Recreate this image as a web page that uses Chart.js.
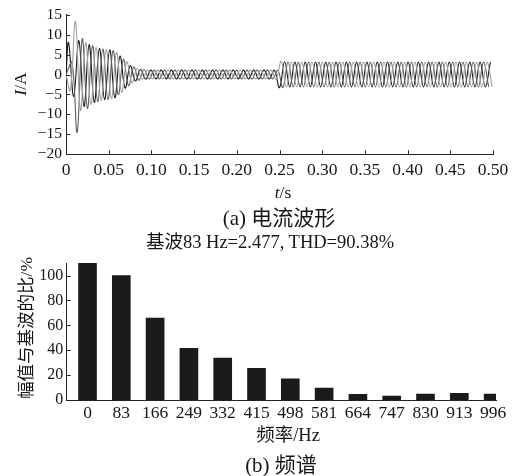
<!DOCTYPE html>
<html><head><meta charset="utf-8">
<script src="https://cdn.jsdelivr.net/npm/chart.js@4"></script>
<style>
html,body{margin:0;padding:0;background:#fff;}
#wrap{position:relative;width:517px;height:476px;overflow:hidden;font-family:"Liberation Serif","Noto Sans CJK SC",serif;color:#161616;}
canvas{position:absolute;left:0;}
.t{position:absolute;white-space:nowrap;transform:translate(-50%,-50%);line-height:1;}
</style></head><body>
<div id="wrap">
<canvas id="c1" width="517" height="200" style="top:0;width:517px;height:200px"></canvas>
<canvas id="c2" width="517" height="226" style="top:250px;width:517px;height:226px"></canvas>
<div class="t" style="left:21px;top:84px;font-size:17.5px;transform:translate(-50%,-50%) rotate(-90deg)"><i>I</i>/A</div>
<div class="t" style="left:283px;top:193px;font-size:17.5px"><i>t</i>/s</div>
<div class="t" style="left:279px;top:218px;font-size:21px">(a) 电流波形</div>
<div class="t" style="left:270px;top:242px;font-size:18.5px">基波83 Hz=2.477, THD=90.38%</div>
<div class="t" style="left:27px;top:328px;font-size:17.5px;transform:translate(-50%,-50%) rotate(-90deg)">幅值与基波的比/%</div>
<div class="t" style="left:288px;top:435px;font-size:18.5px">频率/Hz</div>
<div class="t" style="left:281px;top:465px;font-size:21px">(b) 频谱</div>
</div>
<script>
// ---------- (a) current waveform: successive peak/trough values (A) per phase ----------
const FUND_HZ = 83;
const phaseStart = [0.003, 0.007, 0.005];   // time (s) of first extreme of each phase
const phaseA = [8,-5.5,8.5,-8,7.5,-7,6.5,-6.3,6.2,-5.8,4.6,-3.4,2.2,-1.6,1.25,-1.15,
 1.1,-1.1,1.1,-1.1,1.1,-1.1,1.1,-1.1,
 1.1,-1.1,1.1,-1.1,1.1,-1.1,1.1,-1.1,
 1.1,-1.1,1.1,-1.1,1.1,-1.1,1.1,-1.1,
 1.1,
 -3.3,3.2,
 -3.1,3.1,-3.1,3.1,-3.1,3.1,-3.1,3.1,-3.1,3.1,
 -3.1,3.1,-3.1,3.1,-3.1,3.1,-3.1,3.1,-3.1,3.1,
 -3.1,3.1,-3.1,3.1,-3.1,3.1,-3.1,3.1,-3.1,3.1,
 -3.1,3.1,-3.1,3.1,-3.1,3.1,-3.1,3.1,-3.1,3.1];
const phaseB = [3,-14.5,9,-8.5,7.2,-6.8,6.4,-6.3,6,-5,3.8,-2.8,1.9,-1.4,1.2,-1.1,
 1.1,-1.1,1.1,-1.1,1.1,-1.1,1.1,-1.1,
 1.1,-1.1,1.1,-1.1,1.1,-1.1,1.1,-1.1,
 1.1,-1.1,1.1,-1.1,1.1,-1.1,1.1,-1.1,
 1.1,
 -3.3,3.2,
 -3.1,3.1,-3.1,3.1,-3.1,3.1,-3.1,3.1,-3.1,3.1,
 -3.1,3.1,-3.1,3.1,-3.1,3.1,-3.1,3.1,-3.1,3.1,
 -3.1,3.1,-3.1,3.1,-3.1,3.1,-3.1,3.1,-3.1,3.1,
 -3.1,3.1,-3.1,3.1,-3.1,3.1,-3.1,3.1,
 -3.1];
const phaseC = [-4,13.3,-9,8,-7.5,6.8,-6.5,6.3,-6,5.5,-4.4,3.2,-2.1,1.5,-1.2,1.1,
 -1.1,1.1,-1.1,1.1,-1.1,1.1,-1.1,1.1,
 -1.1,1.1,-1.1,1.1,-1.1,1.1,-1.1,1.1,
 -1.1,1.1,-1.1,1.1,-1.1,1.1,-1.1,1.1,
 -1.1,
 3.3,-3.2,
 3.1,-3.1,3.1,-3.1,3.1,-3.1,3.1,-3.1,3.1,-3.1,
 3.1,-3.1,3.1,-3.1,3.1,-3.1,3.1,-3.1,3.1,-3.1,
 3.1,-3.1,3.1,-3.1,3.1,-3.1,3.1,-3.1,3.1,-3.1,
 3.1,-3.1,3.1,-3.1,3.1,-3.1,3.1,-3.1,3.1,-3.1];
const timeTickLabels = ['0','0.05','0.10','0.15','0.20','0.25','0.30','0.35','0.40','0.45','0.50'];
const currentTickLabels = ['\u221220','\u221215','\u221210','\u22125','0','5','10','15'];
const currentTickValues = [-20,-15,-10,-5,0,5,10,15];

// ---------- (b) spectrum ----------
const freqLabels = ['0','83','166','249','332','415','498','581','664','747','830','913','996'];
const ratioPct = [110,100,65.8,41.6,33.7,25.5,17,9.5,4.5,3.2,4.8,5.3,4.8];
const ratioTickValues = [0,20,40,60,80,100];

const HALF = 1/(2*FUND_HZ);
function series(start, vals){
  const pts=[{x:0,y:0}];
  vals.forEach((v,k)=>pts.push({x:start+k*HALF,y:v}));
  return pts;
}

const inTicks = {
  id:'inTicks',
  afterDraw(chart, args, opts){
    const ctx=chart.ctx, a=chart.chartArea;
    ctx.save(); ctx.strokeStyle='#222'; ctx.lineWidth=1;
    if(opts.x){
      const s=chart.scales.x;
      s.ticks.forEach(t=>{const p=Math.round(s.getPixelForValue(t.value))+0.5;
        ctx.beginPath(); ctx.moveTo(p,a.bottom); ctx.lineTo(p,a.bottom-opts.len); ctx.stroke();});
    }
    if(opts.y){
      const s=chart.scales.y;
      s.ticks.forEach(t=>{const p=Math.round(s.getPixelForValue(t.value))+0.5;
        ctx.beginPath(); ctx.moveTo(a.left,p); ctx.lineTo(a.left+opts.len,p); ctx.stroke();});
    }
    ctx.restore();
  }
};

const FONT = 'Liberation Serif';
Chart.defaults.color = '#161616';
Chart.defaults.font.family = FONT;

const timeTickValues = timeTickLabels.map(Number);

new Chart(document.getElementById('c1'), {
  type:'line',
  data:{datasets:[
    {data:series(phaseStart[2],phaseC),borderColor:'#a0a0a0'},
    {data:series(phaseStart[1],phaseB),borderColor:'#5e5e5e'},
    {data:series(phaseStart[0],phaseA),borderColor:'#161616'}
  ]},
  options:{
    responsive:false, animation:false,
    layout:{padding:{top:14.7,right:24,left:0,bottom:0}},
    elements:{line:{borderWidth:1.1,tension:0.4,fill:false},point:{radius:0}},
    plugins:{legend:{display:false},tooltip:{enabled:false},inTicks:{x:true,y:true,len:4}},
    scales:{
      x:{type:'linear',min:0,max:0.5,
        grid:{display:false,drawTicks:false},
        border:{display:true,color:'#222',width:1},
        afterBuildTicks(s){s.ticks=timeTickValues.map(v=>({value:v}));},
        afterFit(s){s.height=45.7;},
        ticks:{autoSkip:false,maxRotation:0,minRotation:0,padding:6,font:{size:17.5},
          callback:(v,i)=>timeTickLabels[i]}},
      y:{type:'linear',min:-20,max:15,
        grid:{display:false,drawTicks:false},
        border:{display:true,color:'#222',width:1},
        afterBuildTicks(s){s.ticks=currentTickValues.map(v=>({value:v}));},
        afterFit(s){s.width=66;},
        ticks:{autoSkip:false,padding:4,font:{size:15.5},
          callback:(v,i)=>currentTickLabels[i]}}
    }
  },
  plugins:[inTicks]
});

const freqValues = freqLabels.map(Number);
new Chart(document.getElementById('c2'), {
  type:'bar',
  data:{datasets:[{
    data:freqValues.map((f,i)=>({x:f,y:ratioPct[i]})),
    backgroundColor:'#1b1b1b', borderWidth:0, barThickness:18
  }]},
  options:{
    responsive:false, animation:false,
    layout:{padding:{top:11.7,right:21,left:0,bottom:0}},
    plugins:{legend:{display:false},tooltip:{enabled:false},inTicks:{y:true,len:4}},
    scales:{
      x:{type:'linear',min:-51.1,max:1003.1,offset:false,
        grid:{display:false,drawTicks:false},
        border:{display:true,color:'#222',width:1},
        afterBuildTicks(s){s.ticks=freqValues.map(v=>({value:v}));},
        afterFit(s){s.height=76;},
        ticks:{autoSkip:false,maxRotation:0,minRotation:0,padding:3,font:{size:17.5},
          callback:(v,i)=>freqLabels[i]}},
      y:{type:'linear',min:0,max:110,
        grid:{display:false,drawTicks:false},
        border:{display:true,color:'#222',width:1},
        afterBuildTicks(s){s.ticks=ratioTickValues.map(v=>({value:v}));},
        afterFit(s){s.width=66.7;},
        ticks:{autoSkip:false,padding:3.5,font:{size:16},
          callback:(v,i)=>String(ratioTickValues[i])}}
    }
  },
  plugins:[inTicks]
});
</script>
</body></html>
